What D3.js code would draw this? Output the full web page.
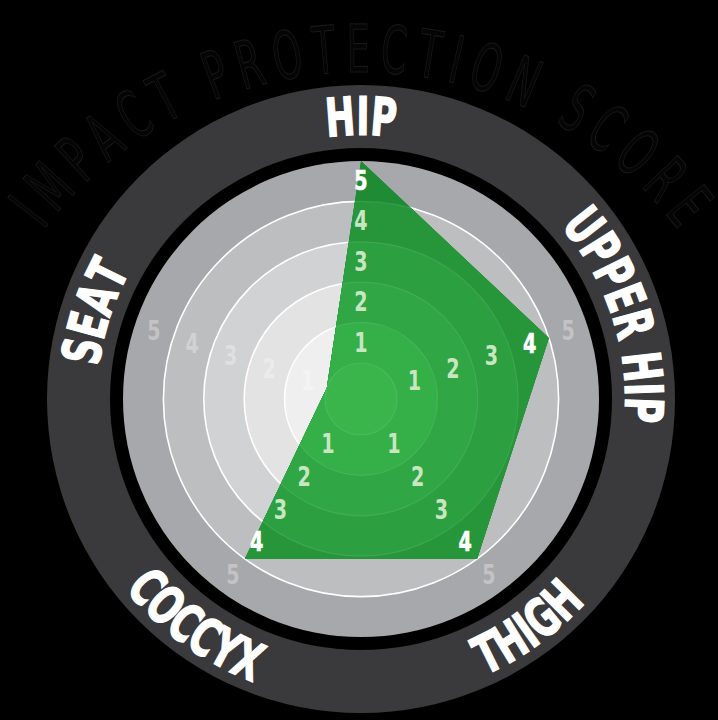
<!DOCTYPE html>
<html><head><meta charset="utf-8">
<script src="https://cdn.jsdelivr.net/npm/d3@7"></script>
<style>html,body{margin:0;padding:0;background:#000;} svg{display:block}</style>
</head><body>
<svg id="chart" width="718" height="720"></svg>
<script>
// ---- data ----
const axes = ["HIP", "UPPER HIP", "THIGH", "COCCYX", "SEAT"];
const scores = [5, 4, 4, 4, 0];
const tickLevels = [1, 2, 3, 4, 5];
const title = "IMPACT PROTECTION SCORE";

// ---- layout / style ----
const W = 718, H = 720, cx = 361, cy = 399;
const FONT = "'Liberation Sans Narrow','DejaVu Sans Condensed','Roboto',sans-serif";
const grayBands = ["#f4f4f4", "#efefef", "#e3e3e4", "#d1d2d3", "#bdbec0", "#a7a8ab"];
const greenBands = ["#39b54c", "#35af48", "#30a744", "#2c9f40", "#27963b", "#208b35"];

const svg = d3.select("#chart");
svg.append("rect").attr("width", W).attr("height", H).attr("fill", "#000");

const r = d3.scaleLinear().domain([0, 5]).range([36, 238]);
const angle = d3.scalePoint().domain(axes).range([0, 2 * Math.PI * 4 / 5]);
const pt = (a, rad) => [cx + rad * Math.sin(a), cy - rad * Math.cos(a)];

// place a string glyph by glyph along a circle arc
function arcText(g, str, ccx, ccy, R, th, cw, sx, totalLen) {
  const chars = str.split("");
  const widths = chars.map(c => {
    const t = g.append("text").text(c === " " ? "\u00a0" : c);
    const w = t.node().getComputedTextLength();
    t.remove();
    return w * sx;
  });
  const base = d3.sum(widths);
  const gap = totalLen ? (totalLen - base) / (chars.length - 1) : 0;
  const L = base + gap * (chars.length - 1);
  let s = 0;
  chars.forEach((c, k) => {
    const mid = s + widths[k] / 2;
    s += widths[k] + gap;
    if (c === " ") return;
    const off = (mid - L / 2) / R;
    const phi = cw ? th + off : th - off;
    const p = [ccx + R * Math.sin(phi), ccy - R * Math.cos(phi)];
    const rot = phi * 180 / Math.PI + (cw ? 0 : 180);
    g.append("text")
      .attr("transform", `translate(${p[0]},${p[1]}) rotate(${rot}) scale(${sx},1)`)
      .attr("text-anchor", "middle")
      .text(c);
  });
}

// ---- faint title arc ----
const tg = svg.append("g").attr("font-family", FONT).attr("font-size", 66)
  .attr("fill", "#050505").attr("stroke", "#181818").attr("stroke-width", 1.1);
arcText(tg, title, 361, 470, 398, 0, true, 0.62, 735);

// ---- outer dark ring ----
svg.append("circle").attr("cx", cx).attr("cy", cy).attr("r", 314).attr("fill", "#3a3a3c");
svg.append("circle").attr("cx", cx).attr("cy", cy).attr("r", 251).attr("fill", "#000");

// ---- grey bands ----
const levels = d3.range(0, 6);
svg.append("g").selectAll("circle").data(levels.slice().reverse()).join("circle")
  .attr("cx", cx).attr("cy", cy).attr("r", d => r(d))
  .attr("fill", d => grayBands[d]);
svg.append("g").selectAll("circle").data(levels.slice(0, 5)).join("circle")
  .attr("cx", cx).attr("cy", cy).attr("r", d => r(d))
  .attr("fill", "none").attr("stroke", "#fff").attr("stroke-width", 1.6);

// ---- green polygon (banded) ----
const pts = axes.map((a, i) => ({ axis: a, v: scores[i] }));
const radial = d3.lineRadial().angle(d => angle(d.axis)).radius(d => r(d.v)).curve(d3.curveLinearClosed);
const defs = svg.append("defs");
defs.append("clipPath").attr("id", "polyClip")
  .append("path").attr("d", radial(pts)).attr("transform", `translate(${cx},${cy})`);
const gg = svg.append("g").attr("clip-path", "url(#polyClip)");
gg.append("rect").attr("width", W).attr("height", H).attr("fill", greenBands[5]);
gg.selectAll("circle.band").data(levels.slice().reverse()).join("circle")
  .attr("class", "band").attr("cx", cx).attr("cy", cy).attr("r", d => r(d))
  .attr("fill", d => greenBands[d]);
gg.selectAll("circle.line").data(levels.slice(0, 5)).join("circle")
  .attr("class", "line").attr("cx", cx).attr("cy", cy).attr("r", d => r(d))
  .attr("fill", "none").attr("stroke", "rgba(255,255,255,0.10)").attr("stroke-width", 1.2);

// ---- tick numbers along each axis ----
const tickData = [];
axes.forEach((a, i) => tickLevels.forEach(v => tickData.push({ axis: a, v, score: scores[i] })));
svg.append("g").selectAll("text").data(tickData).join("text")
  .attr("transform", d => {
    const p = pt(angle(d.axis), r(d.v - 0.5));
    return `translate(${p[0]},${p[1]}) scale(0.82,1)`;
  })
  .attr("text-anchor", "middle").attr("dominant-baseline", "central")
  .attr("font-family", FONT).attr("font-weight", "bold").attr("font-size", 26)
  .attr("fill", d => d.v === d.score ? "#ffffff" : (d.v < d.score ? "#c8e6c2" : "rgba(255,255,255,0.33)"))
  .attr("stroke", d => d.v === d.score ? "#ffffff" : "none").attr("stroke-width", 0.6)
  .text(d => d.v);

// ---- axis labels on the ring (glyph by glyph, condensed) ----
const labelR = 283.5, fs = 53, capH = fs * 0.73;
const lg = svg.append("g").attr("font-family", FONT).attr("font-weight", "bold")
  .attr("font-size", fs).attr("fill", "#fff").attr("stroke", "#fff").attr("stroke-width", 1.3);
axes.forEach((a) => {
  const th = angle(a);
  const cw = Math.cos(th) > -0.05; // upper labels read clockwise, tops outward
  const R = cw ? labelR - capH / 2 : labelR + capH / 2;
  arcText(lg, a, cx, cy, R, th, cw, 0.74, 0);
});
</script>
</body></html>
